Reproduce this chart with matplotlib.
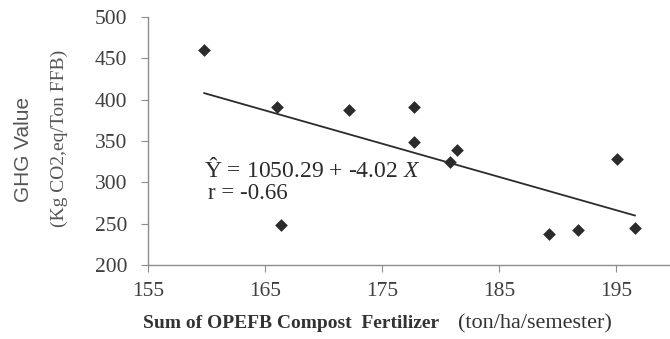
import numpy as np
import matplotlib
matplotlib.use("Agg")
import matplotlib.pyplot as plt

# data
compost = [159.8, 166.0, 172.2, 177.7, 177.7, 181.4, 180.8, 166.4, 189.3, 191.7, 195.1, 196.6]
ghg = [460, 391, 388, 391, 349, 339, 325, 249, 238, 242, 328, 245]
intercept = 1050.29
slope = -4.02
x_ticks = [155, 165, 175, 185, 195]
y_ticks = [200, 250, 300, 350, 400, 450, 500]

plt.rcParams["mathtext.fontset"] = "custom"
plt.rcParams["mathtext.rm"] = "Liberation Serif"
plt.rcParams["mathtext.it"] = "Liberation Serif:italic"

fig = plt.figure(figsize=(6.7, 3.39), dpi=100)
ax = fig.add_axes([0.221, 0.218, 0.779, 0.732])

ax.scatter(compost, ghg, marker="D", s=42, color="#2b2b2b", zorder=3, linewidths=0)

# regression line over the data range
xl = np.array([min(compost), max(compost)])
ax.plot(xl, intercept + slope * xl, color="#2b2b2b", lw=1.3)

ax.set_xlim(155, 199.6)
ax.set_ylim(200, 500)
ax.set_xticks(x_ticks)
ax.set_yticks(y_ticks)

for s in ["top", "right"]:
    ax.spines[s].set_visible(False)
for s in ["left", "bottom"]:
    ax.spines[s].set_color("#8c8c8c")
    ax.spines[s].set_linewidth(1.0)

ax.tick_params(axis="both", colors="#8c8c8c", length=5, labelcolor="#3f3f3f",
               labelsize=15.5)
ax.tick_params(axis="y", pad=10)
ax.tick_params(axis="x", pad=7)
for lab in ax.get_xticklabels() + ax.get_yticklabels():
    lab.set_fontfamily("Liberation Serif")

ax.text(0.107, 0.383, "Ŷ = 1050.29 + -4.02 $\\it{X}$", transform=ax.transAxes,
        fontsize=17, family="Liberation Serif", color="#2b2b2b", va="center")
ax.text(0.115, 0.29, "r = -0.66", transform=ax.transAxes,
        fontsize=16.5, family="Liberation Serif", color="#2b2b2b", va="center")

# y axis titles
fig.text(24 / 670, 1 - 149 / 339, "GHG Value", rotation=90, ha="center", va="center",
         fontsize=15, family="Liberation Sans", color="#555555")
fig.text(59 / 670, 1 - 138 / 339, "(Kg CO2,eq/Ton FFB)", rotation=90, ha="center",
         va="center", fontsize=14, family="Liberation Serif", color="#555555")

# x axis title, bold part then units
fig.text(143 / 670, 1 - 324 / 339, "Sum of OPEFB Compost  Fertilizer", ha="left",
         va="center", fontsize=14, fontweight="bold", family="Liberation Serif",
         color="#333333")
fig.text(458 / 670, 1 - 324 / 339, "(ton/ha/semester)", ha="left", va="center",
         fontsize=16, family="Liberation Serif", color="#333333")

fig.savefig("out.png", dpi=100)
